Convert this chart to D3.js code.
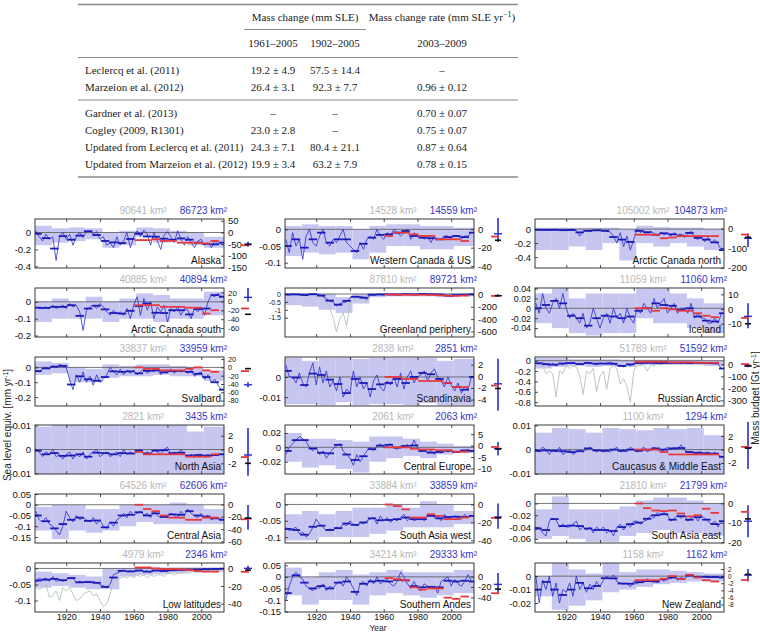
<!DOCTYPE html>
<html><head><meta charset="utf-8">
<script src="https://cdn.jsdelivr.net/npm/d3@7"></script>
<style>body{margin:0;background:#fff}svg{display:block}</style>
</head><body>
<svg id="c" width="760" height="632"></svg>
<script>
// ---------------- TABLE DATA ----------------
const tableRows = ["Leclercq et al. (2011)","Marzeion et al. (2012)","Gardner et al. (2013)","Cogley (2009, R1301)","Updated from Leclercq et al. (2011)","Updated from Marzeion et al. (2012)"];
const mc1961 = ["19.2 ± 4.9","26.4 ± 3.1","–","23.0 ± 2.8","24.3 ± 7.1","19.9 ± 3.4"];
const mc1902 = ["57.5 ± 14.4","92.3 ± 7.7","–","–","80.4 ± 21.1","63.2 ± 7.9"];
const rate0309 = ["–","0.96 ± 0.12","0.70 ± 0.07","0.75 ± 0.07","0.87 ± 0.64","0.78 ± 0.15"];

// ---------------- CHART DATA ----------------
const years = [1902,1904,1906,1908,1910,1912,1914,1916,1918,1920,1922,1924,1926,1928,1930,1932,1934,1936,1938,1940,
1942,1944,1946,1948,1950,1952,1954,1956,1958,1960,1962,1964,1966,1968,1970,1972,1974,1976,1978,1980,
1982,1984,1986,1988,1990,1992,1994,1996,1998,2000,2002,2004,2006,2008,2010,2012];
const decadeEdges = [1901.5,1911.5,1921.5,1931.5,1941.5,1951.5,1961.5,1971.5,1981.5,1991.5,2001.5,2013.5];
const pentadStarts = [1961,1966,1971,1976,1981,1986,1991,1996,2001,2006];
const xTicks = [1920,1940,1960,1980,2000];

const regions = ["Alaska","Western Canada & US","Arctic Canada north","Arctic Canada south","Greenland periphery","Iceland",
"Svalbard","Scandinavia","Russian Arctic","North Asia","Central Europe","Caucasus & Middle East",
"Central Asia","South Asia west","South Asia east","Low latitudes","Southern Andes","New Zealand"];
const areaRGI = [90641,14528,105002,40885,87810,11059,33837,2838,51789,2821,2061,1100,64526,33884,21810,4979,34214,1158];
const areaModel = [86723,14559,104873,40894,89721,11060,33959,2851,51592,3435,2063,1294,62606,33859,21799,2346,29333,1162];

const leftDomain = [[-0.42,0.16],[-0.116,0.031],[-0.557,0.145],[-0.209,0.082],[-2.72,0.38],[-0.058,0.041],
[-0.26,0.07],[-0.0144,0.0099],[-0.874,0.072],[-0.0102,0.0102],[-0.037,0.031],[-0.0101,0.0102],
[-0.178,0.05],[-0.118,0.032],[-0.067,0.016],[-0.136,0.017],[-0.152,0.06],[-0.0267,0.0098]];
const rightDomain = [[-153,58],[-42,11],[-201,48],[-80,30],[-690,103],[-19,14.3],
[-93,25],[-5.1,3.3],[-346,61],[-3.55,3.55],[-12.4,9],[-3.65,3.65],
[-62.5,17],[-43,11.6],[-20.4,4.8],[-49.4,6],[-68,26],[-10.1,3.7]];
const leftTicks = [[0,-0.2,-0.4],[0,-0.05,-0.1],[0,-0.2,-0.4],[0,-0.1,-0.2],[0,-0.5,-1,-1.5],[0.04,0.02,0,-0.02,-0.04],
[0,-0.1,-0.2],[0,-0.01],[0,-0.2,-0.4,-0.6,-0.8],[0.01,0,-0.01],[0.02,0,-0.02],[0.01,0,-0.01],
[0.05,0,-0.05,-0.1,-0.15],[0,-0.05,-0.1],[0,-0.02,-0.04,-0.06],[0,-0.05,-0.1],[0.05,0,-0.05,-0.1,-0.15],[0,-0.01,-0.02]];
const rightTicks = [[50,0,-50,-100,-150],[0,-20,-40],[0,-100,-200],[20,0,-20,-40,-60],[0,-200,-400,-600],[10,0,-10],
[20,0,-20,-40,-60,-80],[2,0,-2,-4],[0,-100,-200,-300],[2,0,-2],[5,0,-5,-10],[2,0,-2],
[0,-20,-40,-60],[0,-20,-40],[0,-10,-20],[0,-20,-40],[0,-20,-40],[2,0,-2,-4,-6,-8]];

// annual reconstruction (mm SLE / yr), every 2nd year
const sAlaska = [0.02,-0.05,-0.1,-0.02,-0.08,-0.05,-0.33,-0.05,0.0,-0.08,-0.02,-0.15,-0.05,0.0,-0.06,0.01,0.02,-0.02,0.01,-0.08,
-0.05,-0.15,-0.12,-0.18,-0.05,-0.15,-0.1,0.0,-0.18,-0.05,0.02,-0.05,0.03,-0.02,-0.15,0.0,-0.1,-0.2,-0.03,0.01,
-0.05,-0.12,0.02,-0.08,-0.15,-0.05,-0.12,-0.18,-0.1,-0.08,-0.15,-0.12,-0.18,-0.1,-0.14,-0.12];
const sWCUS = [-0.03,-0.07,-0.01,-0.05,-0.03,-0.09,-0.02,0.0,-0.04,-0.05,-0.02,0.0,-0.04,-0.05,-0.03,-0.04,-0.02,0.0,-0.04,-0.05,
-0.06,-0.07,-0.04,-0.06,-0.03,-0.02,-0.03,0.0,-0.02,-0.03,-0.01,-0.02,0.0,-0.01,-0.02,-0.01,0.0,-0.03,-0.01,-0.02,
-0.02,-0.03,-0.02,-0.04,-0.02,-0.03,-0.03,-0.02,-0.02,-0.03,-0.02,-0.02,-0.03,-0.02,-0.02,-0.01];
const sACN = [-0.01,-0.01,-0.01,-0.01,-0.015,-0.01,-0.01,-0.015,-0.01,-0.02,-0.01,-0.015,-0.02,-0.1,-0.02,-0.02,-0.03,-0.02,-0.02,-0.01,
-0.02,-0.03,-0.04,-0.1,-0.2,-0.05,-0.25,-0.1,-0.3,-0.15,0.0,-0.05,-0.02,-0.08,-0.03,-0.06,-0.1,-0.04,-0.08,-0.06,
-0.1,-0.05,-0.09,-0.07,-0.12,-0.08,-0.03,-0.12,-0.15,-0.1,-0.18,-0.12,-0.2,-0.15,-0.22,-0.3];
const sACS = [-0.03,-0.04,-0.04,-0.03,-0.04,-0.02,-0.04,-0.03,-0.02,-0.04,-0.01,-0.03,-0.02,-0.06,-0.17,-0.05,-0.03,-0.02,-0.04,-0.01,
-0.03,-0.06,-0.08,-0.05,-0.07,-0.06,-0.08,-0.04,-0.1,-0.02,0.03,-0.08,0.02,-0.05,0.0,-0.1,-0.03,-0.06,-0.02,-0.12,
-0.04,-0.06,-0.03,-0.08,-0.04,-0.05,-0.1,-0.04,-0.06,-0.03,-0.08,0.0,0.04,0.03,0.05,0.03];
const sGreenland = [-0.02,-0.05,0.0,-0.03,-0.05,-0.02,-0.1,-0.03,0.0,-0.02,-0.05,-0.15,-0.3,-0.45,-0.5,-0.75,-0.6,-0.55,-0.5,-0.25,
-0.15,-0.2,-0.15,-0.2,-0.35,-0.05,-0.05,-0.02,-0.03,-0.05,0.0,-0.05,-0.02,-0.03,-0.05,0.0,-0.02,-0.03,0.0,-0.05,
-0.01,0.02,-0.03,0.0,-0.02,-0.04,-0.02,-0.05,-0.1,-0.15,-0.08,-0.05,-0.05,-0.03,-0.05,-0.02];
const sIceland = [0.01,-0.01,0.03,0.0,-0.01,0.01,0.02,0.0,0.03,0.0,-0.02,-0.01,-0.02,-0.03,-0.01,-0.04,-0.03,0.0,-0.02,-0.04,
-0.02,-0.01,-0.03,0.0,-0.02,-0.01,-0.03,0.0,-0.02,-0.03,0.0,-0.01,0.01,0.0,-0.01,0.02,0.0,0.01,0.02,-0.01,
0.0,0.01,-0.01,0.0,0.0,-0.01,0.01,-0.02,-0.01,-0.02,-0.02,-0.03,-0.03,-0.02,-0.03,-0.01];
const sSvalbard = [-0.02,-0.03,-0.01,0.0,-0.01,0.01,0.0,0.02,0.01,0.0,-0.08,-0.15,-0.05,-0.1,-0.03,-0.1,-0.06,-0.12,-0.05,-0.1,
-0.08,-0.05,0.0,-0.03,-0.05,-0.01,-0.05,-0.02,-0.04,-0.02,-0.05,-0.03,-0.01,-0.04,-0.02,-0.03,-0.01,-0.05,-0.02,-0.03,
-0.01,-0.04,-0.02,-0.03,-0.02,-0.04,-0.02,-0.06,-0.04,-0.03,-0.08,-0.05,-0.1,-0.08,-0.12,-0.15];
const sScandinavia = [0.006,0.0,0.0,-0.003,0.002,-0.003,-0.005,0.002,0.007,-0.004,0.005,-0.003,0.003,-0.005,-0.002,-0.007,0.0,-0.01,-0.006,-0.008,
0.003,-0.005,0.0,-0.006,-0.003,-0.01,-0.002,0.001,-0.005,-0.007,-0.002,-0.004,0.0,-0.005,0.002,-0.006,0.0,0.003,-0.003,0.0,
0.001,0.003,-0.002,0.002,0.004,0.0,-0.002,-0.005,0.0,-0.004,-0.007,-0.003,-0.008,-0.005,-0.006,0.0];
const sRussian = [-0.05,-0.05,-0.04,-0.06,-0.1,-0.05,-0.1,-0.05,-0.08,-0.03,-0.05,-0.04,-0.06,-0.05,-0.08,-0.03,-0.06,-0.05,-0.08,-0.04,
-0.06,-0.05,-0.03,-0.05,-0.1,-0.08,-0.12,-0.06,-0.1,-0.05,-0.03,-0.06,-0.04,-0.05,-0.03,-0.05,-0.04,-0.06,-0.03,-0.04,
-0.05,-0.03,-0.04,-0.05,-0.03,-0.04,-0.05,-0.03,-0.04,-0.05,-0.04,-0.05,-0.04,-0.05,-0.06,-0.15];
const sNorthAsia = [0.0,-0.001,-0.003,-0.001,-0.002,0.0,-0.003,-0.002,-0.004,-0.002,-0.001,-0.004,-0.002,-0.003,-0.001,-0.004,-0.002,-0.001,0.0,-0.003,
-0.002,-0.001,-0.003,-0.002,-0.001,-0.003,0.0,-0.002,-0.001,-0.002,-0.001,0.0,-0.002,-0.001,-0.002,0.0,-0.001,-0.002,0.0,0.001,
-0.002,-0.001,-0.002,0.0,-0.002,-0.003,-0.002,-0.003,-0.002,-0.002,-0.003,-0.002,-0.003,-0.002,-0.002,-0.002];
const sCEurope = [-0.01,0.0,0.005,0.01,0.015,0.012,0.008,0.0,-0.005,0.0,-0.01,-0.005,-0.015,-0.008,-0.002,0.002,0.005,-0.005,-0.01,-0.015,
-0.025,-0.01,-0.02,-0.012,-0.005,0.0,-0.005,0.002,0.005,0.0,0.002,0.005,0.0,-0.003,0.002,0.0,0.004,-0.002,0.01,0.0,
-0.006,-0.004,-0.008,-0.004,-0.01,-0.005,-0.008,-0.004,-0.006,-0.004,-0.006,-0.007,-0.004,-0.006,-0.003,-0.005];
const sCaucasus = [0.0,-0.001,0.001,0.0,-0.002,0.0,-0.001,0.001,-0.002,-0.001,0.0,-0.002,-0.001,0.0,-0.001,0.0,0.001,0.0,-0.001,0.0,
-0.001,0.0,-0.001,0.0,0.001,-0.001,0.0,-0.001,0.001,0.0,-0.001,0.0,0.001,-0.001,0.0,0.001,0.0,-0.001,0.0,0.001,
0.0,0.001,0.0,0.002,0.0,-0.001,-0.001,-0.002,-0.001,-0.001,-0.002,-0.001,-0.002,-0.001,-0.002,-0.003];
const sCAsia = [-0.03,-0.07,-0.08,-0.06,-0.09,-0.1,-0.12,-0.14,-0.1,-0.03,-0.06,-0.08,-0.05,-0.07,-0.06,-0.07,-0.08,-0.06,-0.09,-0.07,
-0.1,-0.11,-0.08,-0.1,-0.07,-0.06,-0.04,-0.06,-0.03,-0.05,-0.04,-0.03,-0.05,-0.04,-0.06,-0.03,-0.05,-0.06,-0.05,-0.06,
-0.04,-0.05,-0.06,-0.03,-0.05,-0.02,-0.04,-0.05,-0.06,-0.04,-0.06,-0.05,-0.07,-0.06,-0.06,-0.07];
const sSAW = [-0.07,-0.08,-0.075,-0.07,-0.09,-0.085,-0.1,-0.09,-0.07,-0.045,-0.06,-0.07,-0.08,-0.075,-0.08,-0.07,-0.075,-0.06,-0.065,-0.05,
-0.06,-0.065,-0.055,-0.06,-0.05,-0.045,-0.04,-0.06,-0.035,-0.05,-0.04,-0.055,-0.045,-0.05,-0.04,-0.03,-0.05,-0.04,-0.05,-0.045,
-0.04,-0.05,-0.035,-0.03,-0.04,-0.035,-0.05,-0.03,-0.045,-0.04,-0.035,-0.04,-0.045,-0.03,-0.04,-0.035];
const sSAE = [-0.045,-0.04,-0.05,-0.055,-0.03,-0.025,-0.028,-0.04,-0.035,-0.04,-0.04,-0.035,-0.03,-0.045,-0.04,-0.045,-0.04,-0.05,-0.04,-0.045,
-0.04,-0.05,-0.045,-0.055,-0.04,-0.035,-0.045,-0.035,-0.04,-0.03,-0.03,-0.035,-0.03,-0.028,-0.02,-0.025,-0.015,-0.02,-0.015,-0.02,
-0.03,-0.025,-0.02,-0.025,-0.02,-0.03,-0.025,-0.02,-0.03,-0.02,-0.025,-0.03,-0.035,-0.03,-0.04,-0.03];
const sLowLat = [-0.045,-0.03,-0.035,-0.03,-0.04,-0.025,-0.04,-0.035,-0.04,-0.035,-0.03,-0.03,-0.045,-0.04,-0.045,-0.04,-0.045,-0.04,-0.045,-0.05,
-0.055,-0.06,-0.05,-0.02,-0.015,-0.01,-0.005,-0.01,-0.008,-0.01,-0.008,-0.005,-0.01,-0.008,-0.012,-0.008,-0.005,-0.01,-0.006,-0.008,
-0.005,-0.006,-0.004,-0.006,-0.004,-0.005,-0.003,-0.004,-0.003,-0.004,-0.002,-0.003,-0.002,-0.002,-0.001,-0.001];
const sSAndes = [-0.1,-0.04,0.0,0.02,0.0,-0.01,-0.04,-0.05,-0.06,-0.04,-0.05,-0.03,-0.06,-0.04,-0.05,-0.03,-0.02,-0.04,0.0,-0.02,
-0.05,-0.08,-0.03,-0.02,-0.04,-0.01,-0.03,0.0,-0.03,-0.02,-0.01,-0.03,-0.04,-0.02,0.02,0.0,-0.03,-0.05,-0.02,-0.05,
-0.06,-0.03,-0.04,-0.05,-0.04,-0.07,-0.02,-0.01,0.0,-0.04,-0.01,-0.03,-0.04,-0.02,0.01,-0.02];
const sNZ = [0.0,-0.02,-0.003,-0.01,0.0,-0.015,-0.005,-0.02,-0.01,-0.012,-0.005,-0.015,0.0,-0.01,-0.005,-0.012,-0.006,-0.01,-0.004,-0.008,
-0.003,0.0,-0.002,0.001,-0.004,-0.005,-0.006,-0.005,-0.008,-0.004,-0.006,-0.003,-0.005,-0.002,-0.004,-0.003,-0.005,-0.002,-0.004,-0.001,
-0.002,0.0,-0.003,-0.001,-0.002,0.0,0.001,-0.001,0.0,-0.001,0.0,-0.001,-0.001,0.0,-0.001,-0.001];

// alternative reconstruction (gray), where it departs visibly
const gGreenland = [-0.03,-0.08,-0.02,-0.05,-0.08,-0.04,-0.15,-0.05,-0.02,-0.05,-0.1,-0.2,-0.5,-0.9,-1.5,-2.4,-1.6,-1.2,-2.0,-0.6,
-0.3,-0.4,-0.2,-0.3,-0.5,-0.08,-0.07,-0.03,-0.05,-0.06,-0.01,-0.06,-0.03,-0.04,-0.06,-0.01,-0.03,-0.04,-0.01,-0.06,
-0.02,0.01,-0.04,-0.01,-0.03,-0.05,-0.03,-0.06,-0.11,-0.16,-0.09,-0.06,-0.06,-0.04,-0.06,-0.03];
const gRussian = [-0.05,-0.08,-0.1,-0.25,-0.2,-0.25,-0.7,-0.2,-0.25,-0.1,-0.15,-0.1,-0.12,-0.3,-0.65,-0.2,-0.25,-0.15,-0.6,-0.3,
-0.2,-0.55,-0.15,-0.1,-0.15,-0.45,-0.35,-0.5,-0.8,-0.2,-0.08,-0.1,-0.08,-0.2,-0.08,-0.1,-0.06,-0.08,-0.05,-0.06,
-0.06,-0.05,-0.05,-0.06,-0.04,-0.05,-0.06,-0.04,-0.05,-0.06,-0.05,-0.06,-0.05,-0.06,-0.07,-0.16];
const gLowLat = [-0.06,-0.065,-0.06,-0.05,-0.09,-0.085,-0.07,-0.1,-0.06,-0.07,-0.06,-0.08,-0.1,-0.095,-0.08,-0.075,-0.07,-0.085,-0.08,-0.1,
-0.12,-0.11,-0.08,-0.04,-0.03,-0.03,-0.025,-0.03,-0.02,-0.03,-0.02,-0.025,-0.02,-0.03,-0.02,-0.025,-0.02,-0.02,-0.025,-0.015,
-0.015,-0.02,-0.015,-0.015,-0.012,-0.015,-0.012,-0.01,-0.012,-0.01,-0.01,-0.008,-0.008,-0.006,-0.006,-0.005];

// decadal uncertainty ranges [lo, hi]
const bAlaska = [[-0.15,0.08],[-0.12,0.05],[-0.1,0.06],[-0.08,0.05],[-0.18,0.0],[-0.15,0.02],[-0.05,0.06],[-0.12,0.05],[-0.1,0.02],[-0.15,0.0],[-0.18,-0.05]];
const bWCUS = [[-0.08,0.01],[-0.07,0.015],[-0.075,0.01],[-0.07,0.01],[-0.09,0.0],[-0.07,0.01],[-0.05,0.015],[-0.05,0.015],[-0.06,0.01],[-0.06,0.01],[-0.05,0.005]];
const bACN = [[-0.3,0.02],[-0.3,0.02],[-0.25,0.02],[-0.3,0.02],[-0.2,0.02],[-0.45,0.0],[-0.2,0.05],[-0.25,0.03],[-0.2,0.02],[-0.25,0.02],[-0.3,0.0]];
const bACS = [[-0.12,0.0],[-0.1,0.02],[-0.1,0.0],[-0.1,0.03],[-0.12,0.0],[-0.1,0.02],[-0.1,0.05],[-0.12,0.04],[-0.1,0.02],[-0.1,0.02],[-0.08,0.06]];
const bGreenland = [[-0.7,0.05],[-0.8,0.05],[-1.0,0.0],[-1.2,-0.2],[-0.6,0.02],[-0.2,0.05],[-0.15,0.05],[-0.15,0.05],[-0.15,0.05],[-0.2,0.03],[-0.15,0.03]];
const bIceland = [[-0.03,0.03],[-0.04,0.04],[-0.05,0.02],[-0.055,0.03],[-0.05,0.03],[-0.05,0.03],[-0.02,0.04],[-0.03,0.04],[-0.03,0.03],[-0.04,0.02],[-0.05,0.01]];
const bSvalbard = [[-0.05,0.04],[-0.04,0.03],[-0.1,0.0],[-0.1,-0.01],[-0.07,0.02],[-0.06,0.01],[-0.06,0.02],[-0.05,0.02],[-0.06,0.01],[-0.06,0.0],[-0.09,-0.02]];
const bScandinavia = [[-0.0135,0.0095],[-0.0135,0.008],[-0.014,0.0095],[-0.0125,0.0095],[-0.014,0.009],[-0.0135,0.0095],[-0.0135,0.0095],[-0.014,0.0095],[-0.013,0.0095],[-0.014,0.008],[-0.014,0.009]];
const bRussian = [[-0.15,0.05],[-0.12,0.05],[-0.1,0.03],[-0.12,0.03],[-0.1,0.03],[-0.12,0.02],[-0.08,0.02],[-0.08,0.02],[-0.08,0.02],[-0.08,0.02],[-0.1,0.01]];
const bNorthAsia = [[-0.0102,0.0095],[-0.0102,0.0102],[-0.0102,0.0102],[-0.0102,0.0102],[-0.0102,0.0102],[-0.0102,0.0102],[-0.0102,0.0102],[-0.0102,0.0102],[-0.0102,0.0102],[-0.0102,0.0075],[-0.0102,0.0095]];
const bCEurope = [[-0.02,0.02],[-0.028,0.012],[-0.025,0.012],[-0.03,0.01],[-0.035,0.008],[-0.02,0.015],[-0.015,0.015],[-0.012,0.012],[-0.015,0.008],[-0.01,0.005],[-0.008,0.002]];
const bCaucasus = [[-0.0101,0.007],[-0.0101,0.009],[-0.0101,0.0085],[-0.0101,0.007],[-0.0101,0.009],[-0.0101,0.0085],[-0.0101,0.008],[-0.0101,0.009],[-0.0101,0.0085],[-0.0101,0.009],[-0.0101,0.006]];
const bCAsia = [[-0.12,-0.01],[-0.16,0.0],[-0.12,0.0],[-0.13,-0.02],[-0.12,-0.02],[-0.1,0.0],[-0.08,0.0],[-0.09,0.0],[-0.09,0.01],[-0.09,0.0],[-0.09,-0.02]];
const bSAW = [[-0.11,-0.03],[-0.11,-0.02],[-0.1,-0.03],[-0.1,-0.02],[-0.1,-0.01],[-0.09,-0.01],[-0.08,0.0],[-0.07,-0.01],[-0.07,0.01],[-0.07,0.0],[-0.06,-0.02]];
const bSAE = [[-0.06,-0.01],[-0.055,0.012],[-0.06,-0.01],[-0.065,-0.01],[-0.065,-0.01],[-0.055,-0.005],[-0.05,0.005],[-0.045,0.01],[-0.05,0.01],[-0.05,0.005],[-0.055,0.0]];
const bLowLat = [[-0.06,-0.01],[-0.055,-0.015],[-0.06,-0.02],[-0.065,-0.025],[-0.065,0.0],[-0.025,0.0],[-0.02,0.003],[-0.018,0.003],[-0.015,0.003],[-0.012,0.003],[-0.01,0.003]];
const bSAndes = [[-0.08,0.04],[-0.12,0.0],[-0.1,0.02],[-0.1,0.03],[-0.12,0.01],[-0.08,0.02],[-0.07,0.03],[-0.08,0.02],[-0.09,0.02],[-0.08,0.02],[-0.07,0.03]];
const bNZ = [[-0.015,0.0],[-0.025,0.01],[-0.022,0.005],[-0.018,0.002],[-0.012,0.01],[-0.01,0.003],[-0.008,0.005],[-0.006,0.005],[-0.005,0.004],[-0.004,0.003],[-0.004,0.002]];

// pentadal observations 1961-2010 (red)
const rAlaska = [-0.09,-0.09,-0.08,-0.1,-0.1,-0.12,-0.12,-0.12,-0.13,-0.1];
const rWCUS = [-0.02,-0.01,-0.01,-0.015,-0.02,-0.02,-0.03,-0.03,-0.03,-0.035];
const rACN = [-0.08,-0.08,-0.08,-0.13,-0.12,-0.1,-0.1,-0.1,-0.1,-0.1];
const rACS = [-0.02,-0.02,-0.02,-0.03,-0.03,-0.03,-0.035,-0.035,-0.07,-0.05];
const rGreenland = [-0.03,-0.05,-0.05,-0.05,-0.05,-0.06,-0.08,-0.1,-0.12,-0.1];
const rIceland = [0.0,0.0,-0.005,0.0,-0.002,-0.005,-0.005,-0.01,-0.015,-0.018];
const rSvalbard = [0.0,-0.01,-0.01,-0.02,-0.02,-0.02,-0.01,0.0,-0.02,-0.03];
const rScandinavia = [0.0,0.0,-0.001,-0.001,-0.002,-0.002,-0.002,-0.003,-0.005,-0.005];
const rRussian = [-0.02,-0.02,-0.02,-0.02,-0.03,-0.03,-0.03,-0.04,-0.04,-0.04];
const rNorthAsia = [-0.001,-0.002,-0.002,-0.002,-0.002,-0.002,-0.003,-0.003,-0.003,-0.002];
const rCEurope = [0.0,0.0,0.0,-0.002,-0.003,-0.003,-0.004,-0.004,-0.006,-0.006];
const rCaucasus = [0.0,0.0,0.0,-0.001,-0.002,-0.002,-0.002,-0.002,-0.002,-0.002];
const rCAsia = [0.0,-0.02,-0.03,-0.05,-0.06,-0.06,-0.07,-0.07,-0.06,-0.06];
const rSAW = [0.0,-0.005,-0.015,-0.04,-0.04,-0.03,-0.035,-0.045,-0.045,-0.04];
const rSAE = [0.0,-0.008,-0.012,-0.013,-0.012,-0.017,-0.022,-0.02,-0.009,-0.016];
const rLowLat = [0.003,0.003,0.0,-0.002,-0.002,-0.003,-0.005,-0.008,-0.01,-0.01];
const rSAndes = [-0.005,-0.01,-0.015,-0.045,-0.055,-0.05,-0.05,-0.09,-0.095,-0.085];
const rNZ = [-0.003,-0.003,-0.003,-0.002,0.0,-0.002,0.001,-0.001,-0.003,-0.004];

// 2003-2009 mass budget (Gt/yr): [blue centre, blue low, blue high, red, black]
const budget = [[-50,-62,-40,-55,-52],[-5,-14,12,-8,-12],[-50,-94,-26,-31,-45],[9,-1,30,-16,-29],[-20,-40,0,-25,-22],[-5,-13,4,-6,-10],
[-42,-48,-36,-9,-3],[-1.3,-5.9,3,-1.6,-2.1],[-15,-25,-5,2,-10],[-0.8,-3.8,3.1,-1.1,-2],[-1.3,-4.3,1.6,-0.6,-1.5],[0.3,-2.9,4.1,0.4,0.2],
[-23,-41,-1,-24,-22],[-14,-27,1,-15,-15],[-9.2,-17.4,-1,-4.4,-8],[0,-3,3,-4,-2],[-15,-32,7,-32,-24],[0.3,-1.5,2,-1.1,0.5]];

const blueSeries = [sAlaska,sWCUS,sACN,sACS,sGreenland,sIceland,sSvalbard,sScandinavia,sRussian,sNorthAsia,sCEurope,sCaucasus,sCAsia,sSAW,sSAE,sLowLat,sSAndes,sNZ];
const graySeries = [null,null,null,null,gGreenland,null,null,null,gRussian,null,null,null,null,null,null,gLowLat,null,null];
const boxSeries = [bAlaska,bWCUS,bACN,bACS,bGreenland,bIceland,bSvalbard,bScandinavia,bRussian,bNorthAsia,bCEurope,bCaucasus,bCAsia,bSAW,bSAE,bLowLat,bSAndes,bNZ];
const redSeries = [rAlaska,rWCUS,rACN,rACS,rGreenland,rIceland,rSvalbard,rScandinavia,rRussian,rNorthAsia,rCEurope,rCaucasus,rCAsia,rSAW,rSAE,rLowLat,rSAndes,rNZ];

// ---------------- DRAWING ----------------
const svg = d3.select("#c");
const SANS = "'Liberation Sans', Arial, Helvetica, sans-serif";
const SERIF = "'Liberation Serif', 'Times New Roman', serif";

// Table
const tb = svg.append("g").attr("font-family", SERIF).attr("font-size", 11).attr("fill", "#222");
const rule = (y, x1, x2, w) => tb.append("line").attr("x1", x1).attr("x2", x2).attr("y1", y).attr("y2", y).attr("stroke", "#8a8a8a").attr("stroke-width", w);
rule(4.5, 78, 518, 1.4);
rule(29.5, 244, 366, 1);
rule(57.5, 78, 518, 1.2);
rule(100, 78, 518, 1.2);
rule(177, 78, 518, 1.4);
tb.append("text").attr("x", 305).attr("y", 21).attr("text-anchor", "middle").text("Mass change (mm SLE)");
const hr = tb.append("text").attr("x", 442).attr("y", 21).attr("text-anchor", "middle");
hr.append("tspan").text("Mass change rate (mm SLE yr");
hr.append("tspan").attr("dy", -4).attr("font-size", 8).text("−1");
hr.append("tspan").attr("dy", 4).text(")");
const colX = [273, 335, 442];
["1961–2005","1902–2005","2003–2009"].forEach((t,k)=>tb.append("text").attr("x", colX[k]).attr("y", 47).attr("text-anchor","middle").text(t));
tableRows.forEach((name, i) => {
  const y = i < 2 ? 74 + i * 17 : 117 + (i - 2) * 17;
  tb.append("text").attr("x", 85).attr("y", y).text(name);
  [mc1961[i], mc1902[i], rate0309[i]].forEach((t, k) => tb.append("text").attr("x", colX[k]).attr("y", y).attr("text-anchor", "middle").text(t));
});

// Panels
const colLeft = [35, 285, 535], rowTop = [219, 288, 357, 425, 494, 563];
const PW = 189, PH = 49;
const x = d3.scaleLinear().domain([1901.5, 2013.5]).range([0, PW]);
const fmt = d => String(d);
const BLUE = "#2b2bd0", BOX = "#c6c6f0", RED = "#e8383c";

// font size that keeps tick labels of one axis from running into each other
const tickFont = (scale, ticks) => {
  let gap = Infinity;
  const p = ticks.map(t => scale(t)).sort((a, b) => a - b);
  for (let k = 1; k < p.length; k++) gap = Math.min(gap, p[k] - p[k - 1]);
  return Math.max(5.5, Math.min(9.5, gap / 1.12));
};

regions.forEach((name, i) => {
  const c = i % 3, r = Math.floor(i / 3);
  const g = svg.append("g").attr("transform", `translate(${colLeft[c]},${rowTop[r]})`).attr("font-family", SANS);
  const yL = d3.scaleLinear().domain(leftDomain[i]).range([PH, 0]);
  const yR = d3.scaleLinear().domain(rightDomain[i]).range([PH, 0]);
  const cid = "clip" + i;
  g.append("clipPath").attr("id", cid).append("rect").attr("width", PW).attr("height", PH);
  const pg = g.append("g").attr("clip-path", `url(#${cid})`);

  // uncertainty boxes
  pg.selectAll("rect.box").data(boxSeries[i]).join("rect").attr("class", "box")
    .attr("x", (d, k) => x(decadeEdges[k])).attr("width", (d, k) => x(decadeEdges[k + 1]) - x(decadeEdges[k]))
    .attr("y", d => yL(d[1])).attr("height", d => yL(d[0]) - yL(d[1]))
    .attr("fill", BOX).attr("stroke", "none");

  // zero line
  pg.append("line").attr("x1", 0).attr("x2", PW).attr("y1", yL(0)).attr("y2", yL(0)).attr("stroke", "#555").attr("stroke-width", 0.8);

  const pts = blueSeries[i].map((v, k) => [years[k], v]).filter(d => d[0] !== undefined);
  const line = d3.line().x(d => x(d[0])).y(d => yL(d[1]));
  if (graySeries[i]) {
    const gp = graySeries[i].map((v, k) => [years[k], v]).filter(d => d[0] !== undefined);
    pg.append("path").attr("d", line(gp)).attr("fill", "none").attr("stroke", "#b3c2b3").attr("stroke-width", 0.9);
  }
  pg.append("path").attr("d", line(pts)).attr("fill", "none").attr("stroke", BLUE).attr("stroke-width", 0.8);

  // pentadal means of the reconstruction (thick)
  const bins = d3.rollups(pts, v => d3.mean(v, d => d[1]), d => Math.floor((d[0] - 1901) / 5));
  pg.selectAll("line.pent").data(bins).join("line").attr("class", "pent")
    .attr("x1", d => x(1900.5 + 5 * d[0])).attr("x2", d => x(Math.min(1905.5 + 5 * d[0], 2013.5)))
    .attr("y1", d => yL(d[1])).attr("y2", d => yL(d[1]))
    .attr("stroke", "#1a1ab8").attr("stroke-width", 1.8);

  // red observations
  pg.selectAll("line.red").data(redSeries[i]).join("line").attr("class", "red")
    .attr("x1", (d, k) => x(pentadStarts[k] - 0.5)).attr("x2", (d, k) => x(pentadStarts[k] + 4.5))
    .attr("y1", d => yL(d)).attr("y2", d => yL(d))
    .attr("stroke", RED).attr("stroke-width", 1.8);

  // axes
  const ax = (gen, tr, fs) => {
    const a = g.append("g").attr("transform", tr).call(gen);
    a.select(".domain").remove();
    a.attr("font-family", SANS).attr("font-size", fs);
    a.selectAll("line").attr("stroke", "#222").attr("stroke-width", 0.8);
    a.selectAll("text").attr("fill", "#111");
    return a;
  };
  ax(d3.axisLeft(yL).tickValues(leftTicks[i]).tickFormat(fmt).tickSize(-3).tickPadding(4), "translate(0,0)", tickFont(yL, leftTicks[i]));
  ax(d3.axisRight(yR).tickValues(rightTicks[i]).tickFormat(fmt).tickSize(-3).tickPadding(4), `translate(${PW},0)`, tickFont(yR, rightTicks[i]));
  ax(d3.axisTop(x).tickValues(xTicks).tickFormat("").tickSize(-3), "translate(0,0)", 9.5);
  ax(d3.axisBottom(x).tickValues(xTicks).tickFormat(r === 5 ? fmt : "").tickSize(-3).tickPadding(2), `translate(0,${PH})`, 9);

  // frame
  g.append("rect").attr("width", PW).attr("height", PH).attr("fill", "none").attr("stroke", "#222").attr("stroke-width", 0.9);

  // labels
  g.append("text").attr("x", PW - 3).attr("y", PH - 4).attr("text-anchor", "end").attr("font-size", 10).attr("fill", "#111").text(name);
  g.append("text").attr("x", PW - 81).attr("y", -5).attr("text-anchor", "middle").attr("font-size", 10).attr("fill", "#b8b8b8").text(areaRGI[i] + " km²");
  g.append("text").attr("x", PW + 3).attr("y", -5).attr("text-anchor", "end").attr("font-size", 10).attr("fill", "#3535c8").text(areaModel[i] + " km²");

  // 2003-2009 budget markers
  const b = budget[i], mx = PW + 24;
  g.append("line").attr("x1", mx).attr("x2", mx).attr("y1", yR(b[1])).attr("y2", yR(b[2])).attr("stroke", BLUE).attr("stroke-width", 1.6);
  g.append("line").attr("x1", mx - 4).attr("x2", mx + 4).attr("y1", yR(b[0])).attr("y2", yR(b[0])).attr("stroke", BLUE).attr("stroke-width", 1.4);
  g.append("line").attr("x1", mx - 7).attr("x2", mx + 1).attr("y1", yR(b[3])).attr("y2", yR(b[3])).attr("stroke", RED).attr("stroke-width", 1.8);
  g.append("line").attr("x1", mx - 3).attr("x2", mx + 3).attr("y1", yR(b[4])).attr("y2", yR(b[4])).attr("stroke", "#111").attr("stroke-width", 1.6);
});

// axis titles
const lt = svg.append("text").attr("transform", "translate(11,425) rotate(-90)").attr("text-anchor", "middle").attr("font-family", SANS).attr("font-size", 10).attr("fill", "#222");
lt.append("tspan").text("Sea level equiv. [mm yr");
lt.append("tspan").attr("dy", -3).attr("font-size", 7).text("-1");
lt.append("tspan").attr("dy", 3).text("]");
const rt = svg.append("text").attr("transform", "translate(759,398) rotate(-90)").attr("text-anchor", "middle").attr("font-family", SANS).attr("font-size", 10).attr("fill", "#222");
rt.append("tspan").text("Mass budget [Gt yr");
rt.append("tspan").attr("dy", -3).attr("font-size", 7).text("-1");
rt.append("tspan").attr("dy", 3).text("]");
svg.append("text").attr("x", 378).attr("y", 631).attr("text-anchor", "middle").attr("font-family", SANS).attr("font-size", 8.5).attr("fill", "#222").text("Year");
</script>
</body></html>
